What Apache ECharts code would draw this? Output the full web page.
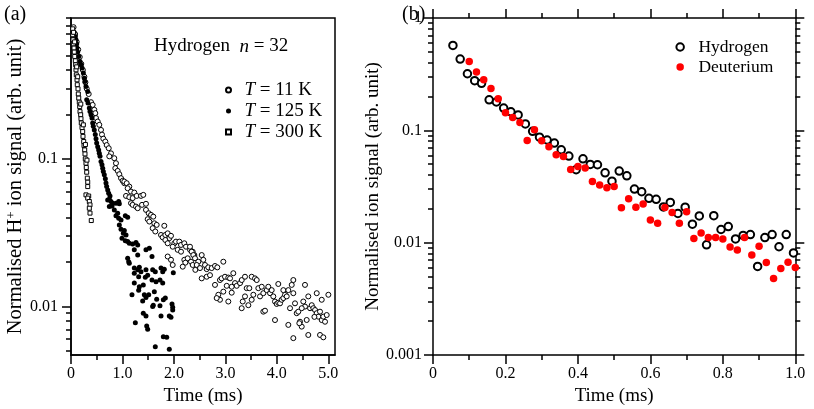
<!DOCTYPE html>
<html><head><meta charset="utf-8">
<script src="https://cdn.jsdelivr.net/npm/echarts@6/dist/echarts.min.js"></script>
<style>html,body{margin:0;padding:0;background:#fff;}#c{width:814px;height:409px;}</style>
</head><body><div id="c"></div>
<script>
const FONT = '"Liberation Serif", "Times New Roman", serif';

// ---------- Panel (a): time (ms), normalised H+ signal ----------
const seriesNamesA = ['T = 11 K', 'T = 125 K', 'T = 300 K'];
const data11K = [
[0.05,0.78],[0.08,0.70],[0.11,0.62],[0.14,0.55],[0.17,0.49],[0.20,0.44],[0.23,0.40],[0.26,0.36],[0.28,0.33],
[0.305,0.299],[0.344,0.275],[0.389,0.242],[0.421,0.232],[0.453,0.215],[0.472,0.204],[0.486,0.189],[0.519,0.179],[0.550,0.170],[0.583,0.157],[0.602,0.146],[0.628,0.137],[0.667,0.131],[0.694,0.124],[0.733,0.118],[0.777,0.109],[0.744,0.104],[0.841,0.101],[0.874,0.0935],[0.861,0.0865],[0.907,0.0829],[0.939,0.0787],[0.972,0.0740],[1.004,0.0710],[1.036,0.0684],
[1.036,0.0702],[1.082,0.0684],[1.133,0.0649],[1.101,0.0632],[1.166,0.0600],[1.230,0.0591],[1.069,0.0561],[1.133,0.0550],[1.198,0.0542],[1.276,0.0561],[1.360,0.0561],[1.405,0.0570],[1.166,0.0501],[1.198,0.0488],[1.263,0.0475],[1.296,0.0463],[1.380,0.0488],[1.457,0.0496],[1.457,0.0451],[1.510,0.0428],[1.555,0.0417],[1.599,0.0406],[1.490,0.0390],[1.522,0.0376],[1.619,0.0366],[1.665,0.0357],[1.587,0.0339],[1.638,0.0322],[1.813,0.0352],[1.749,0.0305],[1.782,0.0294],[1.833,0.0305],[1.879,0.0313],[1.910,0.0290],[1.833,0.0282],[1.943,0.0301],[1.879,0.0268],[2.008,0.0268],[2.040,0.0275],[2.105,0.0275],[2.138,0.0261],[2.202,0.0268],[2.235,0.0254],[2.313,0.0242],[2.365,0.0235],[2.397,0.0223],[1.976,0.0254],[2.073,0.0242],[2.138,0.0235],[1.976,0.0191],[1.879,0.0218],[1.943,0.0207],[2.202,0.0207],[2.222,0.0198],[2.267,0.0212],[2.332,0.0201],[2.365,0.0191],[2.416,0.0177],[2.171,0.0186],
[2.312,0.0254],[2.345,0.0235],[2.377,0.0223],[2.410,0.0212],[2.474,0.0201],[2.540,0.0223],[2.571,0.0207],[2.443,0.0191],[2.507,0.0182],[2.604,0.0191],[2.637,0.0179],[2.668,0.0184],[2.734,0.0182],[2.798,0.0188],[2.843,0.0184],[2.960,0.0201],[2.540,0.0155],[2.637,0.0159],[2.701,0.0163],[2.798,0.0140],[2.895,0.0151],[2.928,0.0155],[2.992,0.0159],[3.057,0.0157],[3.090,0.0155],[3.154,0.0168],[3.187,0.0144],[3.123,0.0136],[3.026,0.0138],[2.960,0.0126],[2.863,0.0120],[2.895,0.0111],[2.831,0.0114],[3.057,0.0108],[3.123,0.0124],[3.220,0.0138],[3.285,0.0144],[3.318,0.0151],[3.381,0.0159],[3.414,0.0133],[3.465,0.0133],[3.511,0.0159],[3.576,0.0155],[3.609,0.0151],[3.543,0.0120],[3.511,0.0111],[3.381,0.0117],[3.317,0.00973],[3.337,0.0108],[3.446,0.0102],[3.640,0.0133],[3.706,0.0136],[3.673,0.0117],[3.737,0.0123],[3.803,0.0129],[3.834,0.0136],[3.868,0.0123],[3.900,0.0129],[3.737,0.00922],[3.770,0.00936],[3.931,0.0117],[3.964,0.0108],[3.997,0.0104],[4.028,0.0106],[4.062,0.0105],[4.094,0.0111],[4.126,0.0114],[4.159,0.0120],[4.192,0.0117],[4.028,0.0142],[4.126,0.0129],[4.223,0.0129],[4.289,0.0140],[4.320,0.0123],[4.353,0.0105],[4.386,0.00900],[4.417,0.00922],[4.450,0.00788],[4.483,0.00730],[4.256,0.00973],[4.320,0.0151],[4.547,0.0140],[4.514,0.0108],[4.611,0.0117],[4.645,0.00973],[4.678,0.0102],[4.709,0.00973],[4.742,0.00946],[4.775,0.00900],[4.806,0.00853],[4.839,0.00922],[4.872,0.00809],[4.903,0.00853],[4.936,0.00788],[4.969,0.00875],[4.775,0.0123],[4.872,0.0111],[5.001,0.0120],[3.964,0.00809],[4.223,0.00750],[4.320,0.00610],[4.611,0.00641],[4.839,0.00641],[4.903,0.00618],[4.547,0.00998],[4.483,0.00973],[4.437,0.0077],[4.580,0.0081],[4.730,0.0085]
];
const data125K = [
[0.06,0.72],[0.07,0.66],[0.084,0.675],[0.097,0.641],[0.110,0.600],[0.117,0.563],[0.130,0.529],[0.150,0.494],[0.175,0.457],[0.194,0.434],[0.214,0.412],[0.240,0.381],[0.259,0.352],[0.272,0.334],[0.291,0.309],[0.324,0.286],[0.305,0.251],[0.330,0.239],[0.356,0.221],[0.369,0.209],[0.389,0.199],[0.408,0.189],[0.421,0.175],[0.433,0.166],[0.453,0.157],[0.472,0.146],[0.486,0.137],[0.499,0.128],[0.519,0.121],[0.538,0.115],[0.550,0.109],[0.564,0.104],[0.583,0.0959],[0.602,0.0911],[0.616,0.0865],[0.628,0.0820],[0.647,0.0779],[0.667,0.0732],[0.680,0.0685],
[0.693,0.0649],[0.713,0.0616],[0.732,0.0585],[0.758,0.0561],[0.745,0.0533],[0.777,0.0514],[0.810,0.0501],[0.874,0.0501],[0.927,0.0514],[0.939,0.0496],[0.713,0.0527],[0.797,0.0480],[0.745,0.0475],[0.842,0.0451],[0.907,0.0428],[0.874,0.0411],[0.927,0.0396],[0.972,0.0386],[1.055,0.0411],[1.101,0.0402],[0.939,0.0357],[0.972,0.0334],[1.036,0.0327],[1.017,0.0313],[1.069,0.0305],[0.991,0.0290],[1.055,0.0279],[1.101,0.0275],[1.133,0.0268],[1.198,0.0265],[1.263,0.0271],[1.296,0.0261],[1.230,0.0242],[1.296,0.0223],[1.457,0.0242],[1.522,0.0248],[1.574,0.0218],[1.101,0.0212],[1.121,0.0201],[1.133,0.0196],[1.230,0.0182],[1.296,0.0177],[1.230,0.0168],[1.328,0.0184],[1.360,0.0172],[1.457,0.0177],[1.315,0.0159],[1.444,0.0158],[1.490,0.0163],[1.587,0.0177],[1.638,0.0172],[1.749,0.0182],[1.782,0.0172],[1.813,0.0179],[1.988,0.0169],[1.574,0.0151],[1.652,0.0147],[1.729,0.0151],[1.782,0.0144],[1.230,0.0144],[1.405,0.0140],[1.328,0.0136],[1.619,0.0126],[1.510,0.0120],[1.457,0.0115],[1.425,0.0120],[1.185,0.0120],[1.315,0.0129],[1.833,0.0114],[1.794,0.0111],[1.665,0.0112],[1.393,0.0109],[1.599,0.0102],[1.729,0.0101],[1.587,0.0100],[1.963,0.0104],[1.976,0.00986],[1.976,0.00946],[1.910,0.00862],[1.943,0.00845],[1.749,0.00862],[1.405,0.00900],[1.457,0.00862],[1.471,0.00738],[1.490,0.00700],[1.250,0.00776],[1.860,0.00618],[1.794,0.00624],[1.638,0.00533],[1.910,0.00513]
];
const data300K = [
[0.033,0.760],[0.033,0.693],[0.039,0.641],[0.045,0.600],[0.058,0.563],[0.064,0.529],[0.072,0.494],[0.084,0.462],[0.091,0.434],[0.097,0.401],[0.103,0.371],[0.117,0.343],[0.122,0.318],[0.136,0.298],[0.142,0.275],[0.150,0.258],[0.161,0.242],[0.169,0.226],[0.175,0.209],[0.188,0.199],[0.194,0.187],[0.200,0.175],[0.214,0.163],[0.227,0.153],[0.233,0.142],[0.247,0.131],[0.253,0.123],[0.266,0.115],[0.272,0.108],[0.278,0.100],[0.291,0.0935],[0.297,0.0874],[0.305,0.0812],[0.317,0.0740],[0.325,0.0695],[0.325,0.0649],[0.291,0.057],[0.344,0.056],[0.325,0.0542],[0.356,0.0514],[0.369,0.0488],[0.356,0.0463],[0.369,0.0429],[0.394,0.0382],
[0.050,0.72],[0.070,0.62],[0.110,0.42],[0.130,0.36],[0.190,0.235],[0.240,0.170],[0.280,0.125],[0.310,0.098]
];

// ---------- Panel (b) ----------
const seriesNamesB = ['Hydrogen', 'Deuterium'];
const dataH = [
[0.055,0.57],[0.075,0.431],[0.095,0.319],[0.115,0.277],[0.134,0.262],[0.155,0.187],[0.175,0.179],[0.195,0.158],[0.215,0.146],[0.235,0.137],[0.255,0.114],[0.275,0.098],[0.294,0.087],[0.315,0.082],[0.335,0.077],[0.354,0.067],[0.375,0.059],[0.395,0.0446],[0.414,0.0558],[0.434,0.0497],[0.454,0.0494],[0.475,0.0419],[0.494,0.0353],[0.514,0.0434],[0.535,0.0394],[0.556,0.030],[0.576,0.0284],[0.596,0.0248],[0.616,0.0243],[0.636,0.0208],[0.655,0.0228],[0.676,0.0182],[0.696,0.0207],[0.716,0.0146],[0.735,0.0173],[0.755,0.00957],[0.775,0.0174],[0.795,0.0131],[0.815,0.0139],[0.835,0.0108],[0.856,0.0116],[0.876,0.0118],[0.896,0.00614],[0.916,0.0111],[0.936,0.0118],[0.955,0.0092],[0.975,0.0118],[0.995,0.0081]
];
const dataD = [
[0.10,0.411],[0.12,0.330],[0.14,0.282],[0.16,0.236],[0.18,0.191],[0.20,0.1435],[0.22,0.130],[0.24,0.1177],[0.26,0.0813],[0.28,0.101],[0.30,0.0808],[0.32,0.0714],[0.34,0.0606],[0.36,0.0586],[0.38,0.0449],[0.40,0.0477],[0.42,0.0462],[0.44,0.0351],[0.46,0.0326],[0.48,0.0308],[0.50,0.0316],[0.52,0.0205],[0.54,0.0246],[0.56,0.0207],[0.58,0.0221],[0.60,0.0159],[0.62,0.0149],[0.64,0.0206],[0.66,0.0186],[0.68,0.0149],[0.70,0.0188],[0.72,0.0109],[0.74,0.0122],[0.76,0.0111],[0.78,0.0111],[0.80,0.0108],[0.82,0.00914],[0.84,0.0086],[0.86,0.0111],[0.88,0.00776],[0.90,0.0093],[0.92,0.00667],[0.94,0.0048],[0.96,0.00589],[0.98,0.0067],[1.00,0.0060]
];

// ---------- Ticks and labels ----------
const aXTicks = [0, 1, 2, 3, 4, 5];
const aXTickLabels = ['0', '1.0', '2.0', '3.0', '4.0', '5.0'];
const aXMinor = [0.5, 1.5, 2.5, 3.5, 4.5];
const aYTicks = [0.01, 0.1];
const aYTickLabels = ['0.01', '0.1'];
const bXTicks = [0, 0.2, 0.4, 0.6, 0.8, 1.0];
const bXTickLabels = ['0', '0.2', '0.4', '0.6', '0.8', '1.0'];
const bXMinor = [0.1, 0.3, 0.5, 0.7, 0.9];
const bYTicks = [0.001, 0.01, 0.1, 1];
const bYTickLabels = ['0.001', '0.01', '0.1', '1'];
const minorMultipliers = [2, 3, 4, 5, 6, 7, 8, 9];
const aYMinor = [0.005, 0.006, 0.007, 0.008, 0.009].concat(
  minorMultipliers.map(m => m * 0.01), minorMultipliers.map(m => m * 0.1));
const bYMinor = [].concat(minorMultipliers.map(m => m * 0.001),
  minorMultipliers.map(m => m * 0.01), minorMultipliers.map(m => m * 0.1));

// axis ranges
const aXRange = [0, 5.13];
const aYRange = [0.00469, 0.90];
const bXRange = [0, 1];
const bYRange = [0.001, 1];

const lg = Math.log10;
const toLog = arr => arr.map(p => [p[0], lg(p[1])]);
function labelFor(ticks, labels, logScale) {
  return v => {
    let best = 0, bd = Infinity;
    ticks.forEach((t, i) => { const d = Math.abs((logScale ? lg(t) : t) - v); if (d < bd) { bd = d; best = i; } });
    return labels[best];
  };
}

const LINE = { color: '#000', width: 1.5 };
function axis(o) {
  const a = {
    type: 'value', gridIndex: o.grid, position: o.pos,
    min: o.min, max: o.max,
    axisLine: { show: !!o.line, onZero: false, lineStyle: LINE },
    axisTick: { show: true, inside: false, length: o.tickLen, lineStyle: LINE, customValues: o.ticks },
    axisLabel: { show: !!o.labels, margin: o.margin || 8, color: '#000', fontFamily: FONT, fontSize: 16 },
    splitLine: { show: false }, minorTick: { show: false }, minorSplitLine: { show: false }
  };
  if (o.labels) { a.axisLabel.customValues = o.ticks; a.axisLabel.formatter = o.labels; }
  if (o.name) {
    a.name = o.name; a.nameLocation = 'middle'; a.nameGap = o.nameGap;
    a.nameTextStyle = Object.assign({ color: '#000', fontFamily: FONT, fontSize: 19 }, o.nameStyle || {});
  }
  return a;
}

const ayMin = lg(aYRange[0]), ayMax = lg(aYRange[1]);
const byMin = lg(bYRange[0]), byMax = lg(bYRange[1]);

const gA = { left: 71, top: 18, width: 264, height: 337, containLabel: false, outerBoundsMode: 'none' };
const gB = { left: 433, top: 18, width: 362.3, height: 337, containLabel: false, outerBoundsMode: 'none' };

const squareIcon = 'path://M0,0L10,0L10,10L0,10Z';

const option = {
  animation: false,
  backgroundColor: '#fff',
  textStyle: { fontFamily: FONT, color: '#000' },
  grid: [
    Object.assign({ show: true, borderColor: '#000', borderWidth: 1.5, backgroundColor: 'transparent' }, gA),
    Object.assign({ show: false }, gA),
    Object.assign({ show: false }, gB),
    Object.assign({ show: false }, gB)
  ],
  xAxis: [
    axis({ grid: 0, pos: 'bottom', min: aXRange[0], max: aXRange[1], line: true, tickLen: 9, ticks: aXTicks,
      labels: labelFor(aXTicks, aXTickLabels, false), margin: 11, name: 'Time (ms)', nameGap: 31 }),
    axis({ grid: 1, pos: 'bottom', min: aXRange[0], max: aXRange[1], tickLen: 5, ticks: aXMinor }),
    axis({ grid: 2, pos: 'bottom', min: bXRange[0], max: bXRange[1], line: true, tickLen: 9, ticks: bXTicks,
      labels: labelFor(bXTicks, bXTickLabels, false), margin: 11, name: 'Time (ms)', nameGap: 31 }),
    axis({ grid: 2, pos: 'top', min: bXRange[0], max: bXRange[1], line: true, tickLen: 9, ticks: bXTicks }),
    axis({ grid: 3, pos: 'bottom', min: bXRange[0], max: bXRange[1], tickLen: 5, ticks: bXMinor }),
    axis({ grid: 3, pos: 'top', min: bXRange[0], max: bXRange[1], tickLen: 5, ticks: bXMinor })
  ],
  yAxis: [
    axis({ grid: 0, pos: 'left', min: ayMin, max: ayMax, line: true, tickLen: 9, ticks: aYTicks.map(lg),
      labels: labelFor(aYTicks, aYTickLabels, true), margin: 13,
      name: '{a|Normalised H}{s|+}{a| ion signal (arb. unit)}', nameGap: 41.5,
      nameStyle: { fontSize: 20.5, rich: { a: { fontFamily: FONT, fontSize: 20.5, color: '#000' }, s: { fontFamily: FONT, fontSize: 13, color: '#000', verticalAlign: 'top' } } } }),
    axis({ grid: 1, pos: 'left', min: ayMin, max: ayMax, tickLen: 5, ticks: aYMinor.map(lg) }),
    axis({ grid: 2, pos: 'left', min: byMin, max: byMax, line: true, tickLen: 9, ticks: bYTicks.map(lg),
      labels: labelFor(bYTicks, bYTickLabels, true), margin: 11,
      name: 'Normalised ion signal (arb. unit)', nameGap: 36 }),
    axis({ grid: 2, pos: 'right', min: byMin, max: byMax, line: true, tickLen: 9, ticks: bYTicks.map(lg) }),
    axis({ grid: 3, pos: 'left', min: byMin, max: byMax, tickLen: 5, ticks: bYMinor.map(lg) }),
    axis({ grid: 3, pos: 'right', min: byMin, max: byMax, tickLen: 5, ticks: bYMinor.map(lg) })
  ],
  legend: [
    { show: true, selectedMode: false, orient: 'vertical', left: 225, top: 80.5, padding: 0,
      itemWidth: 22, itemHeight: 5, itemGap: 2,
      data: [{ name: seriesNamesA[0] }, { name: seriesNamesA[1] }, { name: seriesNamesA[2], icon: squareIcon }],
      formatter: n => '{i|T}' + n.slice(1),
      textStyle: { fontFamily: FONT, fontSize: 19, color: '#000',
        rich: { i: { fontFamily: FONT, fontSize: 19, fontStyle: 'italic', color: '#000' } } } },
    { show: true, selectedMode: false, orient: 'vertical', left: 675.4, top: 38, padding: 0,
      itemWidth: 26.6, itemHeight: 7.5, itemGap: 2, data: seriesNamesB,
      textStyle: { fontFamily: FONT, fontSize: 17.5, color: '#000' } }
  ],
  graphic: [
    { type: 'text', left: 4, top: 5, style: { text: '(a)', font: '20px ' + FONT, fill: '#000' } },
    { type: 'text', left: 402, top: 5, style: { text: '(b)', font: '20px ' + FONT, fill: '#000' } },
    { type: 'text', left: 154, top: 37, style: {
        text: '{r|Hydrogen  }{i|n}{r| = 32}', fill: '#000',
        rich: { r: { fontFamily: FONT, fontSize: 19, fill: '#000' }, i: { fontFamily: FONT, fontSize: 19, fontStyle: 'italic', fill: '#000' } } } }
  ],
  series: [
    { name: seriesNamesA[0], type: 'scatter', xAxisIndex: 0, yAxisIndex: 0, data: toLog(data11K),
      symbol: 'circle', symbolSize: 5, itemStyle: { color: '#fff', borderColor: '#000', borderWidth: 1, opacity: 1 } },
    { name: seriesNamesA[1], type: 'scatter', xAxisIndex: 0, yAxisIndex: 0, data: toLog(data125K),
      symbol: 'circle', symbolSize: 5, itemStyle: { color: '#000', opacity: 1 } },
    { name: seriesNamesA[2], type: 'scatter', xAxisIndex: 0, yAxisIndex: 0, data: toLog(data300K),
      symbol: 'rect', symbolSize: 4, itemStyle: { color: '#fff', borderColor: '#000', borderWidth: 1, opacity: 1 } },
    { name: seriesNamesB[0], type: 'scatter', xAxisIndex: 2, yAxisIndex: 2, data: toLog(dataH),
      symbol: 'circle', symbolSize: 7.5, itemStyle: { color: '#fff', borderColor: '#000', borderWidth: 2, opacity: 1 } },
    { name: seriesNamesB[1], type: 'scatter', xAxisIndex: 2, yAxisIndex: 2, data: toLog(dataD),
      symbol: 'circle', symbolSize: 7.5, itemStyle: { color: '#ff0000', opacity: 1 } }
  ]
};

const chart = echarts.init(document.getElementById('c'), null, { renderer: 'canvas' });
chart.setOption(option);
</script>
</body></html>
